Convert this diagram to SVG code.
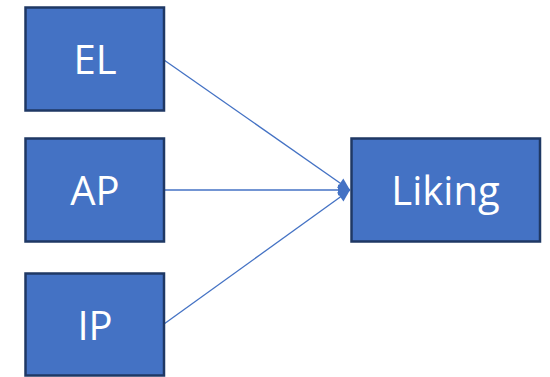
<svg xmlns="http://www.w3.org/2000/svg" width="550" height="377" viewBox="0 0 550 377">
<style>
.box{fill:#4472C4;stroke:#1F3864;stroke-width:2.5}
.lbl{fill:#FFFFFF;font-family:"Open Sans","Liberation Sans",sans-serif;font-size:40px;text-anchor:middle}
.edge{stroke:#4472C4;stroke-width:1.3;fill:none;marker-end:url(#ah)}
</style>
<defs>
<marker id="ah" markerUnits="userSpaceOnUse" markerWidth="14" markerHeight="14" viewBox="0 0 14 14" refX="13" refY="7" orient="auto">
<path d="M1,1.5 L13,7 L1,12.5 Z" fill="#4472C4"/>
</marker>
</defs>
<rect width="550" height="377" fill="#FFFFFF"/>
<g id="connectors">
<line class="edge" x1="164" y1="60" x2="350" y2="190"/>
<line class="edge" x1="164" y1="190" x2="350" y2="190"/>
<line class="edge" x1="164" y1="324" x2="350" y2="190"/>
</g>
<g id="EL"><rect class="box" x="25.5" y="7.5" width="138.5" height="103"/><text class="lbl" x="95" y="74">EL</text></g>
<g id="AP"><rect class="box" x="25.5" y="138.5" width="138.5" height="103"/><text class="lbl" x="95" y="205">AP</text></g>
<g id="IP"><rect class="box" x="25.5" y="273.5" width="138.5" height="102"/><text class="lbl" x="95" y="340">IP</text></g>
<g id="Liking"><rect class="box" x="351.5" y="138.5" width="188.5" height="103"/><text class="lbl" x="445.5" y="205">Liking</text></g>
</svg>
